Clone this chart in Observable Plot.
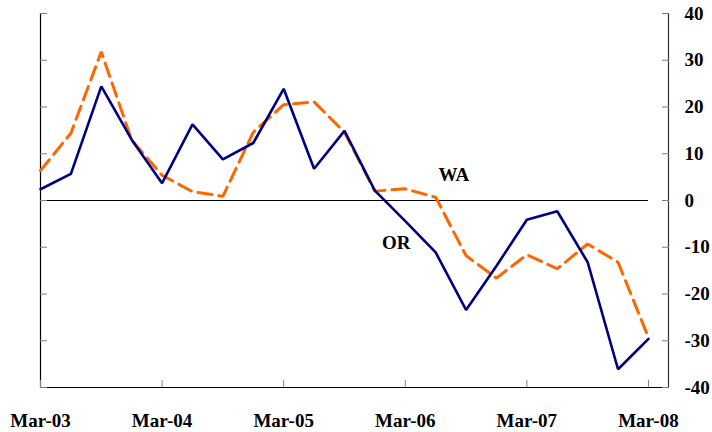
<!DOCTYPE html>
<html>
<head>
<meta charset="utf-8">
<script src="https://cdn.jsdelivr.net/npm/d3@7"></script>
<script src="https://cdn.jsdelivr.net/npm/@observablehq/plot@0.6"></script>
<style>
  html, body { margin: 0; padding: 0; background: #fff; }
</style>
</head>
<body>
<div id="chart"></div>
<script>
// Quarterly periods, Mar-03 .. Mar-08
const quarters = ["Mar-03","Jun-03","Sep-03","Dec-03","Mar-04","Jun-04","Sep-04","Dec-04",
  "Mar-05","Jun-05","Sep-05","Dec-05","Mar-06","Jun-06","Sep-06","Dec-06",
  "Mar-07","Jun-07","Sep-07","Dec-07","Mar-08"];
// OR (solid navy)
const orValues = [2.4, 5.7, 24.4, 13.0, 3.7, 16.3, 8.8, 12.3, 23.9, 6.8, 14.9, 2.1,
  -4.4, -11.1, -23.4, -14.0, -4.1, -2.3, -13.2, -36.1, -29.6];
// WA (dashed orange)
const waValues = [6.4, 14.4, 31.8, 12.9, 5.4, 1.9, 0.9, 14.6, 20.5, 21.1, 14.6, 2.0,
  2.5, 0.7, -11.8, -16.6, -11.6, -14.6, -9.3, -13.2, -29.3];
const xTickLabels = ["Mar-03","Mar-04","Mar-05","Mar-06","Mar-07","Mar-08"];
const yTicks = [-40, -30, -20, -10, 0, 10, 20, 30, 40];
const seriesNames = ["WA", "OR"];
const seriesLabelAt = [[13.6, 5.5], [11.7, -9.1]]; // [quarter index, value]

const xMax = 20.66;
const xTicks = xTickLabels.map((_, i) => i * 4);
const orData = quarters.map((q, i) => ({i, v: orValues[i]}));
const waData = quarters.map((q, i) => ({i, v: waValues[i]}));
const labels = seriesNames.map((n, k) => ({name: n, i: seriesLabelAt[k][0], v: seriesLabelAt[k][1]}));

const chart = Plot.plot({
  width: 712,
  height: 432,
  marginLeft: 40,
  marginRight: 44,
  marginTop: 13,
  marginBottom: 45,
  style: {fontFamily: "'Liberation Serif', 'Times New Roman', serif", fontSize: "19px", fontWeight: "bold", color: "black", background: "white"},
  x: {domain: [0, xMax]},
  y: {domain: [-40, 40]},
  marks: [
    Plot.ruleY([0], {x1: 0, x2: 20, stroke: "black", strokeWidth: 1}),
    Plot.ruleX([0], {stroke: "black", strokeWidth: 1.2}),
    Plot.ruleX([xMax], {stroke: "#333", strokeWidth: 1.2}),
    Plot.ruleY([-40], {stroke: "black", strokeWidth: 1.2}),
    Plot.axisY({anchor: "left", ticks: yTicks, tickSize: -7, tickFormat: () => "", label: null, stroke: "#808080"}),
    Plot.axisY({anchor: "right", ticks: yTicks, tickSize: -7, tickPadding: 23, tickFormat: d => String(d), label: null, stroke: "#808080", fill: "black", textAnchor: "start"}),
    Plot.axisX({anchor: "bottom", ticks: xTicks, tickSize: -7, tickPadding: 32.5, tickFormat: d => xTickLabels[Math.round(d / 4)], label: null, stroke: "#808080", fill: "black"}),
    Plot.line(waData, {x: "i", y: "v", stroke: "#FF6600", strokeWidth: 3, strokeDasharray: "14,7", strokeLinejoin: "miter"}),
    Plot.line(orData, {x: "i", y: "v", stroke: "#000080", strokeWidth: 2.6, strokeLinejoin: "miter"}),
    Plot.text(labels, {x: "i", y: "v", text: "name", fill: "black", fontSize: 19, fontWeight: "bold"})
  ]
});
document.getElementById("chart").appendChild(chart);
</script>
</body>
</html>
